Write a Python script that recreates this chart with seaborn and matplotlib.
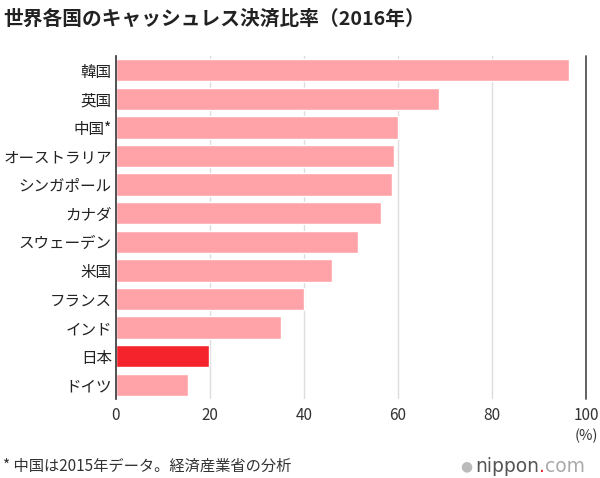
import matplotlib
matplotlib.use("Agg")
import matplotlib.pyplot as plt
import seaborn as sns
import pandas as pd

countries = ["韓国", "英国", "中国*", "オーストラリア", "シンガポール", "カナダ",
             "スウェーデン", "米国", "フランス", "インド", "日本", "ドイツ"]
values = [96.4, 68.7, 60.0, 59.1, 58.8, 56.4, 51.5, 46.0, 40.0, 35.1, 19.8, 15.3]
highlight = "日本"
xticks = [0, 20, 40, 60, 80, 100]

sns.set_theme(style="white")
plt.rcParams['font.family'] = ['Noto Sans CJK JP', 'DejaVu Sans']

pink = "#FFA3A8"
red = "#F5232B"
palette = {c: (red if c == highlight else pink) for c in countries}

df = pd.DataFrame({"country": countries, "value": values})

fig = plt.figure(figsize=(6.0, 4.78), dpi=100)
ax = fig.add_axes([116/600, 1-399/478, 470/600, 343/478])
ax.set_axisbelow(True)
for t in xticks[1:-1]:
    ax.axvline(t, color="#DDDDDD", lw=1, zorder=0)
ax.axvline(100, color="#555555", lw=1.3, zorder=0, clip_on=False)

sns.barplot(data=df, x="value", y="country", hue="country", palette=palette,
            legend=False, width=0.78, ax=ax, orient="h", saturation=1, zorder=2)

ax.set_xlim(0, 100)
ax.set_ylim(11.5, -0.5)
ax.set_xticks(xticks)
ax.set_xticklabels([str(t) for t in xticks], fontsize=11, color="#333333")
ax.tick_params(axis='y', labelsize=11.2, colors="#222222", pad=3, length=0)
ax.tick_params(axis='x', length=0, pad=6)
ax.set_xlabel("")
ax.set_ylabel("")
for s in ["top", "right", "bottom"]:
    ax.spines[s].set_visible(False)
ax.spines["left"].set_color("#333333")
ax.spines["left"].set_linewidth(1.2)

fig.text(3/600, 1-19/478, "世界各国のキャッシュレス決済比率（2016年）", fontsize=14.2,
         fontweight="bold", color="#222222", va="center", ha="left")
fig.text(598/600, 1-436/478, "(%)", fontsize=10.5, color="#333333", va="center", ha="right")
fig.text(3/600, 1-466/478, "* 中国は2015年データ。経済産業省の分析", fontsize=11,
         color="#333333", va="center", ha="left")

# logo
fig.text(466/600, 1-466/478, "●", fontsize=10, color="#BBBBBB", va="center", ha="center",
         family=['DejaVu Sans'])
t1 = fig.text(475/600, 1-466/478, "nippon", fontsize=13.5, color="#555555",
              va="center", ha="left", family=['DejaVu Sans'])
fig.canvas.draw()
bb = t1.get_window_extent()
t2 = fig.text(bb.x1/600, 1-466/478, ".", fontsize=13.5, color="#E8202A",
              va="center", ha="left", family=['DejaVu Sans'])
fig.canvas.draw()
bb2 = t2.get_window_extent()
fig.text(bb2.x1/600, 1-466/478, "com", fontsize=13.5, color="#AAAAAA",
         va="center", ha="left", family=['DejaVu Sans'])

fig.savefig("out.png", dpi=100)
